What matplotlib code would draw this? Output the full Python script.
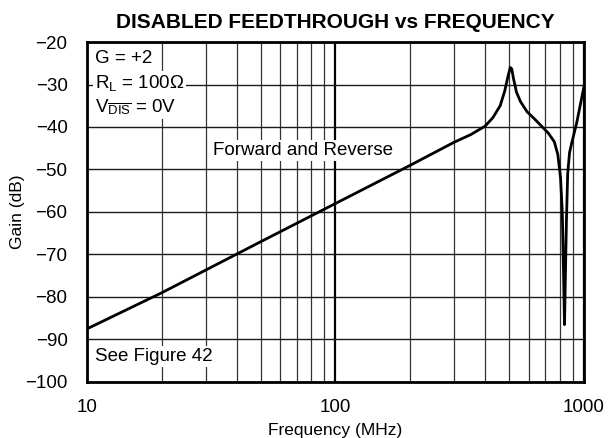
import matplotlib.pyplot as plt
import numpy as np
from matplotlib.ticker import FixedLocator, NullFormatter

plt.rcParams['font.family'] = ['Liberation Sans', 'DejaVu Sans']
plt.rcParams['mathtext.fontset'] = 'custom'
plt.rcParams['mathtext.rm'] = 'Liberation Sans'
plt.rcParams['mathtext.it'] = 'Liberation Sans:italic'
plt.rcParams['axes.unicode_minus'] = True

# curve
freq_mhz = [10, 20, 50, 100, 200, 300, 350, 400, 430, 460, 480, 495, 505, 512,
            520, 535, 555, 590, 630, 670, 720, 760, 785, 805, 818, 828, 835,
            842, 850, 860, 875, 895, 935, 1000]
gain_db = [-87.5, -79, -67, -58, -49, -43.6, -41.8, -39.8, -37.8, -35.0, -31.5,
           -28.0, -26.0, -26.3, -28.5, -31.8, -34.0, -36.4, -38.0, -39.6, -41.5,
           -43.5, -46.5, -52, -60, -75, -86.5, -75, -62, -51, -46, -43.5, -39,
           -30.5]

y_ticks = [-100, -90, -80, -70, -60, -50, -40, -30, -20]
x_ticks = [10, 100, 1000]
x_minor = [m * d for d in (10, 100) for m in range(2, 10)]

fig = plt.figure(figsize=(6.16, 4.38), dpi=100)
ax = fig.add_axes([0.1412, 0.1279, 0.8068, 0.7762])

ax.set_xscale('log')
ax.set_xlim(10, 1000)
ax.set_ylim(-100, -20)

ax.xaxis.set_major_locator(FixedLocator(x_ticks))
ax.xaxis.set_minor_locator(FixedLocator(x_minor))
ax.xaxis.set_minor_formatter(NullFormatter())
ax.set_xticklabels([str(t) for t in x_ticks])
ax.set_yticks(y_ticks)
ax.set_yticklabels([f'\u2212{abs(t)}' if t < 0 else str(t) for t in y_ticks])

ax.grid(True, which='major', axis='y', color='#1a1a1a', lw=1.0)
ax.grid(True, which='minor', axis='x', color='#333333', lw=0.9)
ax.grid(True, which='major', axis='x', color='black', lw=1.6)
ax.set_axisbelow(True)

ax.tick_params(which='both', length=0, labelsize=13.5, colors='black')
ax.tick_params(axis='y', pad=14)
ax.tick_params(axis='x', pad=12)
for s in ax.spines.values():
    s.set_linewidth(2.0)

ax.plot(freq_mhz, gain_db, color='black', lw=2.0, zorder=3)

ax.set_title('DISABLED FEEDTHROUGH vs FREQUENCY', fontsize=15,
             fontweight='bold', pad=10)
ax.set_xlabel('Frequency (MHz)', fontsize=12.5, labelpad=5)
ax.set_ylabel('Gain (dB)', fontsize=12.5)
ax.yaxis.set_label_coords(-0.125, 0.5)

box = dict(facecolor='white', edgecolor='none', pad=1.5)
ax.text(10.75, -24.9, 'G = +2', fontsize=13.5, va='baseline', ha='left', bbox=box, zorder=4)
ax.text(10.75, -30.8, r'R$_\mathrm{L}$ = 100$\Omega$', fontsize=13.5, va='baseline',
        ha='left', bbox=box, zorder=4)
ax.text(10.75, -36.5, r'V$_{\overline{\mathrm{DIS}}}$ = 0V', fontsize=13.5, va='baseline',
        ha='left', bbox=box, zorder=4)
ax.text(32.1, -46.6, 'Forward and Reverse', fontsize=13.5, va='baseline', ha='left',
        bbox=box, zorder=4)
ax.text(10.75, -95.1, 'See Figure 42', fontsize=13.5, va='baseline', ha='left',
        bbox=box, zorder=4)

fig.savefig('out.png', dpi=100)
